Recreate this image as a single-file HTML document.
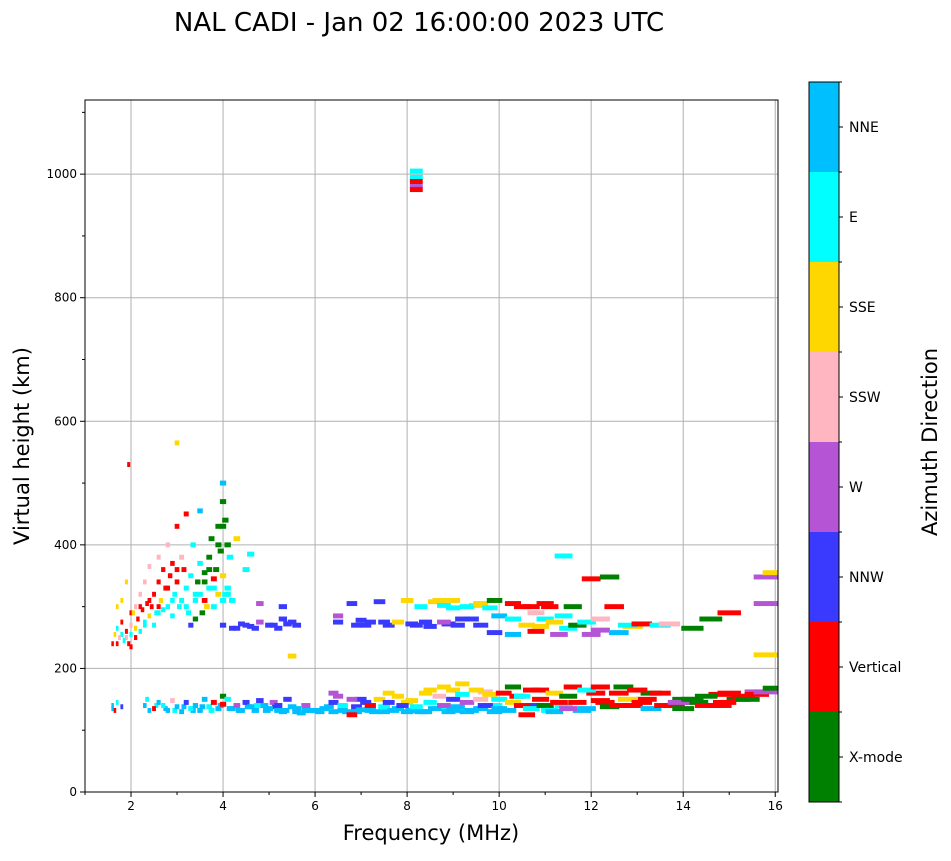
<!DOCTYPE html>
<html><head><meta charset="utf-8"><style>
body{margin:0;background:#fff;font-family:"Liberation Sans",sans-serif}
svg text{font-family:"DejaVu Sans","Liberation Sans",sans-serif}
</style></head><body>
<svg id="c" width="951" height="856" viewBox="0 0 951 856"></svg>
<script>
const categories=["X-mode","Vertical","NNW","W","SSW","SSE","E","NNE"];
const catColors=["#008000","#ff0000","#3a3aff","#b555d5","#ffb6c1","#ffd700","#00ffff","#00bfff"];
const xTicks=[2,4,6,8,10,12,14,16];
const yTicks=[0,200,400,600,800,1000];
const freqs=[1.6,1.65,1.7,1.8,2.3,2.35,2.5,2.6,2.7,2.8,2.9,3.0,3.1,3.2,3.3,3.4,3.5,3.6,3.7,3.8,3.9,4.0,4.0,4.1,4.2,4.3,4.4,4.5,4.6,4.7,4.8,4.9,5.0,5.1,5.2,5.3,5.4,5.5,5.6,5.8,5.9,5.2,5.7,
6.0,6.2,6.4,6.4,6.5,6.6,6.7,6.8,6.8,6.9,7.0,7.1,7.2,7.3,7.4,7.5,7.6,7.7,7.8,7.9,8.0,8.1,8.2,8.3,8.4,8.5,8.6,8.7,8.8,8.8,8.9,9.0,9.0,9.1,9.2,9.3,9.4,9.5,9.6,9.7,9.8,9.9,10.0,10.0,10.1,
10.3,10.3,10.5,10.5,10.6,10.7,10.7,10.9,11.0,11.2,11.2,11.3,11.5,11.5,11.7,11.9,11.9,12.2,12.2,12.4,12.6,12.6,12.8,13.0,13.1,13.3,13.5,13.6,13.9,14.0,14.2,14.5,14.5,14.9,15.0,15.4,15.6,15.8,16.0,
1.6,1.65,1.7,1.7,1.75,1.8,1.8,1.85,1.9,1.9,1.95,2.0,2.0,2.05,2.1,2.1,2.15,2.2,2.2,2.25,2.3,2.3,2.35,2.4,2.4,2.45,2.5,2.5,2.55,2.6,2.6,2.65,2.7,2.7,2.75,2.8,2.8,2.85,2.9,2.9,2.95,3.0,3.0,3.05,3.1,3.1,3.15,3.2,3.2,3.25,3.3,3.3,3.35,3.4,3.4,3.45,3.5,3.5,3.5,3.55,3.6,3.6,3.65,3.7,3.7,3.75,3.8,3.8,3.85,3.9,3.9,3.95,4.0,4.0,4.0,4.05,4.05,4.1,4.1,4.15,4.2,4.3,4.5,4.6,3.0,1.95,
4.0,4.2,4.4,4.6,4.8,5.0,5.2,5.3,5.4,5.5,4.8,5.3,5.6,
6.5,6.5,6.8,6.9,7.0,7.2,7.4,7.6,7.8,8.0,8.2,8.3,8.4,8.6,8.8,8.8,9.0,9.1,9.3,9.4,9.6,9.6,9.8,9.9,9.9,10.0,
10.3,10.3,10.3,10.6,10.7,10.8,10.8,11.0,11.1,11.2,11.3,11.4,11.4,11.6,11.7,11.9,12.0,12.2,12.2,12.4,12.5,12.6,12.8,13.1,13.5,13.7,14.2,14.6,15.0,15.8,15.8,15.8,16.0,
8.2,8.2,8.2,8.2,8.2];
const heights=[140,132,145,138,140,150,135,145,140,132,148,138,130,145,135,140,132,150,138,145,135,155,142,150,135,140,132,145,138,132,148,140,135,145,140,130,150,138,135,140,132,132,128,
132,135,130,145,155,140,130,150,125,138,133,145,140,130,150,138,145,132,155,140,130,148,138,130,160,145,135,155,170,140,130,165,150,138,158,145,132,165,150,140,158,130,150,135,160,
170,145,140,155,125,165,135,150,140,160,130,145,155,135,145,165,135,170,148,138,160,140,150,165,145,135,160,140,145,135,150,140,155,145,160,150,158,162,168,
240,255,265,300,250,275,310,245,260,340,240,270,255,290,250,300,280,260,320,295,275,340,305,285,365,300,270,320,290,340,380,310,295,360,330,300,400,350,285,370,320,340,430,300,380,310,360,330,450,290,350,270,400,310,280,340,320,370,455,290,355,310,300,380,330,410,345,300,360,430,320,390,470,350,500,440,320,400,330,380,310,410,360,385,565,530,
270,265,272,268,275,270,265,280,272,220,305,300,270,
275,285,305,270,278,275,308,270,275,310,270,300,275,308,302,275,310,270,300,280,305,270,298,310,258,285,
305,280,255,270,300,290,260,280,300,275,255,285,382,300,270,275,345,280,262,348,300,258,270,272,270,272,265,280,290,348,305,222,355,
1005,995,988,980,975];
const cats=[7,1,6,2,7,6,1,7,6,7,4,7,7,2,6,7,7,7,6,1,7,0,1,6,7,3,7,2,7,7,2,7,7,3,2,7,2,7,7,3,7,7,7,
7,7,7,2,3,6,7,3,1,2,7,2,1,7,5,6,2,7,5,2,7,5,6,7,5,6,7,4,5,3,7,5,2,7,6,3,7,5,4,2,5,7,6,7,1,
0,5,1,6,1,1,6,1,0,5,7,1,0,3,1,6,7,1,1,0,1,1,5,1,1,7,1,1,3,0,0,1,0,1,1,0,1,3,0,
1,5,6,5,4,1,5,6,1,5,1,4,6,5,1,4,1,6,4,1,6,4,1,5,4,1,6,1,6,1,4,5,6,1,1,6,4,1,6,1,6,1,1,6,4,6,1,6,1,6,6,2,6,6,0,0,6,6,7,0,0,1,5,0,6,0,1,6,0,0,5,0,0,5,7,0,6,0,6,6,6,5,6,6,5,1,
2,2,2,2,3,2,2,2,2,5,3,2,2,
2,3,2,2,2,2,2,2,5,5,2,6,2,5,6,3,5,2,6,2,5,2,6,0,2,7,
1,6,7,5,1,4,1,6,1,5,3,6,6,0,0,6,1,4,3,0,1,7,6,1,6,4,0,0,1,3,3,5,5,
6,6,1,3,1];
const freqsB=[1.6,2.4,2.55,2.75,2.95,3.15,3.35,3.55,3.75,3.95,4.15,4.35,4.55,4.75,4.95,5.15,5.35,5.6,5.8,6.1,6.3,6.6,6.9,7.2,7.5,7.8,8.1,8.4,8.7,9.0,9.3,9.6,9.9,10.2,10.8,11.1,11.4,11.8,12.3,12.9,13.2,13.8,14.3,14.8,15.2,15.6,
6.4,7.0,7.6,8.0,8.5,9.2,9.7,10.4,10.9,11.6,12.1,12.7,13.3,14.0,14.8,15.3,
2.0,2.2,2.4,2.6,2.8,3.0,2.3,2.6,2.9,3.2,3.4,3.6,3.8,4.0,4.1,3.7,3.9,4.0,1.7,1.8,1.9,2.0,2.1,
4.3,4.5,4.7,5.1,5.5,7.1,7.5,8.1,8.5,8.9,9.2,9.5,9.0,8.7,10.5,11.0,10.9,11.5,12.0,12.9];
const heightsB=[135,132,140,135,132,138,132,138,132,140,135,132,138,140,132,138,132,130,132,130,138,132,130,132,130,135,132,130,135,132,130,135,140,132,140,132,140,132,145,140,150,140,145,140,150,162,
160,150,160,145,165,175,162,155,165,170,160,170,160,150,158,155,
290,300,310,300,330,360,270,290,310,300,320,340,330,310,320,360,400,430,240,255,250,235,265,
265,270,265,270,275,270,275,272,268,272,280,302,298,310,300,305,268,265,255,268];
const catsB=[7,7,6,7,6,7,7,7,6,7,7,7,7,6,7,2,7,7,7,7,7,7,7,7,7,7,7,7,6,7,7,7,6,7,2,6,6,7,1,1,1,1,0,1,0,3,
3,2,5,5,5,5,4,1,1,1,1,0,0,0,1,1,
1,1,1,1,1,1,6,6,6,6,6,0,6,6,6,0,0,0,1,6,4,1,5,
2,2,2,2,2,2,2,2,2,2,2,5,6,5,1,1,5,6,3,5];

const NS="http://www.w3.org/2000/svg";
const svg=document.getElementById('c');
const L=85,R=778,T=100,B=792,X0=1,X1=16.06,Y0=0,Y1=1120;
const xs=f=>L+(f-X0)/(X1-X0)*(R-L);
const ys=h=>B-(h-Y0)/(Y1-Y0)*(B-T);
function mk(tag,attrs,parent){const e=document.createElementNS(NS,tag);for(const k in attrs)e.setAttribute(k,attrs[k]);(parent||svg).appendChild(e);return e;}

const clip=mk('clipPath',{id:'pc'});mk('rect',{x:L,y:T,width:R-L,height:B-T},clip);
xTicks.forEach(t=>{const g=mk('line',{x1:xs(t),x2:xs(t),y1:T,y2:B,stroke:'#b0b0b0','stroke-width':1});

});
yTicks.forEach(t=>{const g=mk('line',{x1:L,x2:R,y1:ys(t),y2:ys(t),stroke:'#b0b0b0','stroke-width':1});

});
const mg=mk('g',{'clip-path':'url(#pc)'});


function drawSet(F,H,C){
 const n=Math.min(F.length,H.length,C.length);
 for(let i=0;i<n;i++){
  const f=F[i],h=H[i],w=f*0.034;
  const x=xs(f-w/2),x2=xs(f+w/2);
  const r=mk('rect',{x:x,y:ys(h+4),width:Math.max(2.5,x2-x),height:ys(h-4)-ys(h+4),fill:catColors[C[i]]},mg);
  
  
 }
}
drawSet(freqsB,heightsB,catsB);
drawSet(freqs,heights,cats);
const fr=mk('rect',{x:L,y:T,width:R-L,height:B-T,fill:'none',stroke:'#000','stroke-width':1});


xTicks.forEach(t=>{mk('line',{x1:xs(t),x2:xs(t),y1:B,y2:B+5,stroke:'#000'});
const tx=mk('text',{x:xs(t),y:B+18,'font-size':12,'text-anchor':'middle'});tx.textContent=t;

});
for(let m=1;m<=16;m++){if(m%2)mk('line',{x1:xs(m),x2:xs(m),y1:B,y2:B+3,stroke:'#000'});}
yTicks.forEach(t=>{mk('line',{x1:L-5,x2:L,y1:ys(t),y2:ys(t),stroke:'#000'});
const tx=mk('text',{x:L-8,y:ys(t)+4,'font-size':12,'text-anchor':'end'});tx.textContent=t;

});
for(let m=100;m<=1100;m+=200)mk('line',{x1:L-3,x2:L,y1:ys(m),y2:ys(m),stroke:'#000'});
const CL=809,CW=30,CT=82,CB=802,seg=(CB-CT)/8;
categories.forEach((c,i)=>{
 const y=CB-(i+1)*seg;
 const r=mk('rect',{x:CL,y:y,width:CW,height:seg,fill:catColors[i]});
 
 
 mk('line',{x1:CL+CW,x2:CL+CW+4,y1:y+seg/2,y2:y+seg/2,stroke:'#000'});
 const t=mk('text',{x:CL+CW+10,y:y+seg/2+5,'font-size':14});t.textContent=c;
 
 
});
for(let i=0;i<=8;i++)mk('line',{x1:CL+CW,x2:CL+CW+3,y1:CT+i*seg,y2:CT+i*seg,stroke:'#000'});
mk('rect',{x:CL,y:CT,width:CW,height:CB-CT,fill:'none',stroke:'#000'});
function label(txt,attrs,name){const t=mk('text',attrs);t.textContent=txt;}
label('NAL CADI - Jan 02 16:00:00 2023 UTC',{x:419,y:31,'font-size':26,'text-anchor':'middle'},'chart-title');
label('Frequency (MHz)',{x:431,y:840,'font-size':21,'text-anchor':'middle'},'x-axis-title');
label('Virtual height (km)',{x:0,y:0,'font-size':21,'text-anchor':'middle',transform:'translate(29,446) rotate(-90)'},'y-axis-title');
label('Azimuth Direction',{x:0,y:0,'font-size':21,'text-anchor':'middle',transform:'translate(937,442) rotate(-90)'},'colorbar-title');
</script>
</body></html>
